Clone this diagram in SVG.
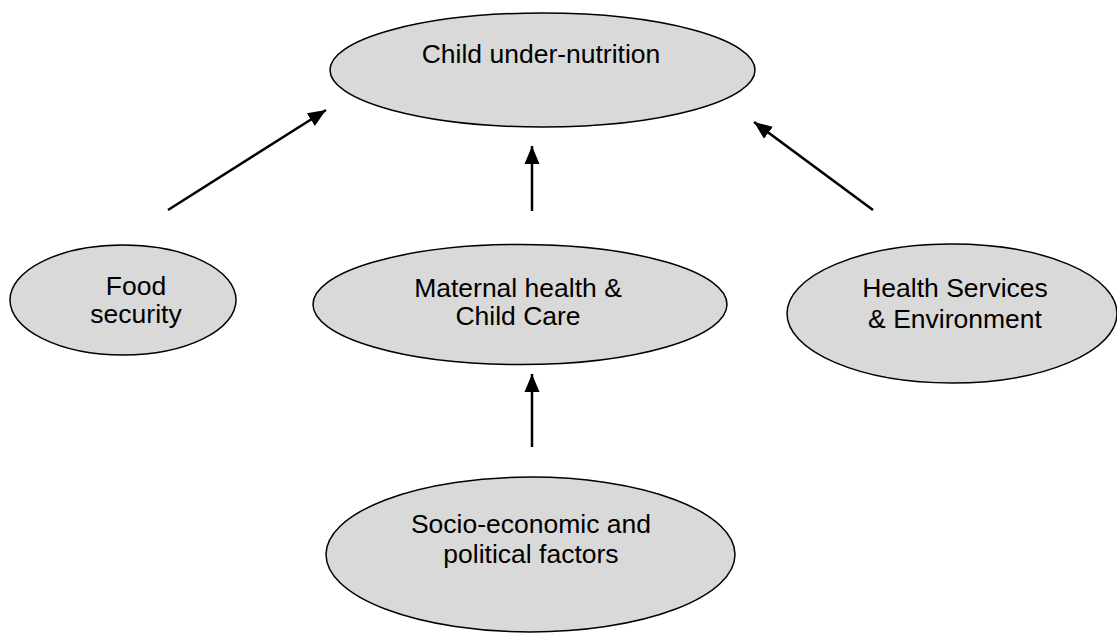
<svg xmlns="http://www.w3.org/2000/svg" width="1117" height="633" viewBox="0 0 1117 633">
<style>
.node ellipse{fill:#d9d9d9;stroke:#000;stroke-width:1.5}
.node text{font-family:"Liberation Sans",Arial,sans-serif;font-size:26.5px;fill:#000;text-anchor:middle}
.conn line{stroke:#000;stroke-width:2.5;marker-end:url(#ah)}
</style>
<defs>
<marker id="ah" markerUnits="userSpaceOnUse" markerWidth="20" markerHeight="20" viewBox="0 0 20 20" refX="18" refY="10" orient="auto">
<path d="M0,2.5 L18,10 L0,17.5 Z" fill="#000"/>
</marker>
</defs>
<rect width="1117" height="633" fill="#fff"/>
<g id="child-undernutrition" class="node">
<ellipse cx="542.5" cy="70" rx="212.5" ry="57"/>
<text x="541" y="63">Child under-nutrition</text>
</g>
<g id="food-security" class="node">
<ellipse cx="123" cy="300" rx="113" ry="55"/>
<text x="136" y="295">Food</text>
<text x="136" y="323">security</text>
</g>
<g id="maternal-health" class="node">
<ellipse cx="520" cy="304.5" rx="207" ry="60"/>
<text x="518" y="297">Maternal health &amp;</text>
<text x="518" y="325">Child Care</text>
</g>
<g id="health-services" class="node">
<ellipse cx="952" cy="313.5" rx="165" ry="69.5"/>
<text x="955" y="297">Health Services</text>
<text x="955" y="328">&amp; Environment</text>
</g>
<g id="socio-economic" class="node">
<ellipse cx="530.5" cy="554.5" rx="204.5" ry="77.5"/>
<text x="531" y="533">Socio-economic and</text>
<text x="531" y="563">political factors</text>
</g>
<g id="connectors" class="conn">
<line x1="168" y1="210" x2="326" y2="110"/>
<line x1="532" y1="211" x2="532" y2="146"/>
<line x1="873" y1="210" x2="754" y2="122"/>
<line x1="532" y1="447" x2="532" y2="374"/>
</g>
</svg>
